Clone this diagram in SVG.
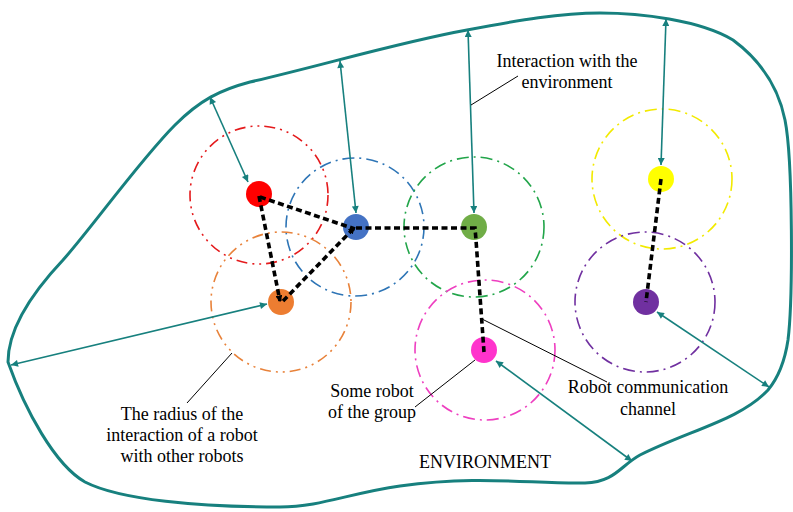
<svg xmlns="http://www.w3.org/2000/svg" width="793" height="512" viewBox="0 0 793 512">
<style>
.env{fill:none;stroke:#17807e;stroke-width:3}
.ia{fill:none;stroke:#17807e;stroke-width:1.6;marker-start:url(#ta);marker-end:url(#ta)}
.comm{fill:none;stroke:#000;stroke-width:3.6;stroke-dasharray:6 3.5}
.rad{fill:none;stroke-width:1.6;stroke-dasharray:11 5 2 5 2 5}
.rad2{stroke-dasharray:12 5 2 5}
.lead{fill:none;stroke:#000;stroke-width:1}
text{font-family:"Liberation Serif","Times New Roman",serif;font-size:18px;fill:#000;text-anchor:middle}
</style>
<defs>
<marker id="ta" viewBox="0 0 10 10" refX="10" refY="5" markerWidth="11" markerHeight="7" markerUnits="userSpaceOnUse" orient="auto-start-reverse">
<path d="M0,0 L10,5 L0,10 z" fill="#17807e"/>
</marker>
<marker id="ba" viewBox="0 0 10 10" refX="8" refY="5" markerWidth="7" markerHeight="7" markerUnits="userSpaceOnUse" orient="auto">
<path d="M0,0 L10,5 L0,10 z" fill="#000"/>
</marker>
</defs>
<g id="environment">
<path class="env" d="M 8 362 C 8 330 30 295 63 260 C 90 230 140 160 175 125 C 200 100 220 90 250 82 C 320 66 400 42 467 30 C 520 20 560 13 600 13 C 640 13 700 20 733 40 C 760 60 778 85 785 120 C 793 160 793 300 788 340 C 785 360 778 378 768 390 C 740 420 690 430 640 455 C 620 466 615 482 585 483 C 530 484 480 475 400 486 C 350 493 320 507 280 507 C 200 507 120 500 85 482 C 55 465 25 410 8 362 Z"/>
<text x="485" y="468">ENVIRONMENT</text>
</g>
<g id="radii">
<circle class="rad" cx="259" cy="195" r="69" stroke="#e41a1c"/>
<circle class="rad rad2" cx="355" cy="227" r="69" stroke="#2e75b6"/>
<circle class="rad rad2" cx="474" cy="227" r="70" stroke="#22a54a"/>
<circle class="rad" cx="281" cy="302" r="70" stroke="#e8823a"/>
<circle class="rad rad2" cx="485" cy="350" r="70" stroke="#ee3fc0"/>
<circle class="rad rad2" cx="662" cy="179" r="70" stroke="#f2ea00"/>
<circle class="rad rad2" cx="645" cy="302" r="70" stroke="#7030a0"/>
</g>
<g id="robot-red"><circle cx="259" cy="194" r="13" fill="#ff0000"/></g>
<g id="robot-blue"><circle cx="356" cy="227" r="13" fill="#4472c4"/></g>
<g id="robot-green"><circle cx="474" cy="227" r="13" fill="#70ad47"/></g>
<g id="robot-orange"><circle cx="281" cy="302" r="13" fill="#ed7d31"/></g>
<g id="robot-pink"><circle cx="484" cy="350" r="13" fill="#ff33cc"/></g>
<g id="robot-yellow"><circle cx="661" cy="179" r="13" fill="#ffff00"/></g>
<g id="robot-purple"><circle cx="646" cy="302" r="13" fill="#7030a0"/></g>
<g id="connectors">
<path class="ia" d="M 210 97 L 248 182"/>
<path class="ia" d="M 340 61 L 356 213"/>
<path class="ia" d="M 468 30 L 474 213"/>
<path class="ia" d="M 666 19 L 661 165"/>
<path class="ia" d="M 11 365 L 267 304"/>
<path class="ia" d="M 496 361 L 632 461"/>
<path class="ia" d="M 657 312 L 769 387"/>
<path class="comm" d="M 260 197 L 355 229"/>
<path class="comm" d="M 259 196 L 280 301" marker-end="url(#ba)"/>
<path class="comm" d="M 283 301 L 354 228" marker-end="url(#ba)"/>
<path class="comm" d="M 356 228 L 475 228 L 476 240 L 484 352"/>
<path class="comm" d="M 661 179 L 646 302"/>
<path class="lead" d="M 471 105 L 518 76"/>
<path class="lead" d="M 232 353 L 187 403"/>
<path class="lead" d="M 475 360 L 415 407"/>
<path class="lead" d="M 482 319 L 607 382"/>
</g>
<g id="label-env">
<text x="567" y="67">Interaction with the</text>
<text x="567" y="88">environment</text>
</g>
<g id="label-radius">
<text x="182" y="420">The radius of the</text>
<text x="182" y="441">interaction of a robot</text>
<text x="182" y="462">with other robots</text>
</g>
<g id="label-robot">
<text x="372" y="397">Some robot</text>
<text x="372" y="418">of the group</text>
</g>
<g id="label-channel">
<text x="648" y="393">Robot communication</text>
<text x="648" y="415">channel</text>
</g>
</svg>
